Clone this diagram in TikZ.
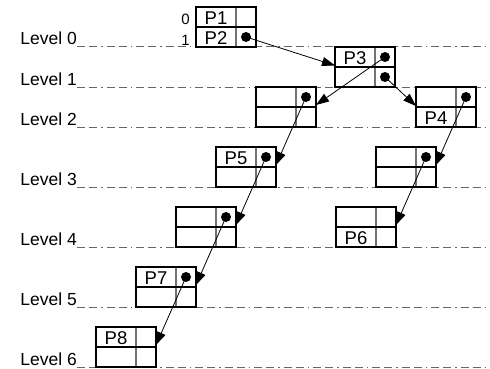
\documentclass[tikz,border=0pt]{standalone}
\usepackage{fontspec}
\setmainfont{Liberation Sans}
\usetikzlibrary{arrows.meta,calc}
\tikzset{
  x=1pt, y=-1pt,
  pbox/.style={draw, line width=1.8pt, minimum width=60pt, minimum height=40pt, inner sep=0pt, outer sep=0pt},
  hdiv/.style={line width=1.3pt, black},
  vdiv/.style={line width=1.2pt, black!55},
  lev/.style={draw=black!60, line width=1pt, dash pattern=on 8pt off 4pt on 8pt off 4pt on 1.5pt off 4pt},
  levlabel/.style={anchor=base east, font=\fontsize{17.5}{17.5}\selectfont, inner sep=0pt},
  celltext/.style={anchor=base, font=\fontsize{18.5}{18.5}\selectfont, inner sep=0pt},
  idxtext/.style={anchor=base east, font=\fontsize{15}{15}\selectfont, inner sep=0pt},
  ptr/.style={-{Triangle[length=13pt,width=9pt]}, line width=0.8pt},
  dotmark/.style={fill=black},
}
% name, left x, top y, top-left text, bottom-left text
\newcommand\pbox[5]{%
  \draw[vdiv] (#2+40,#3) -- (#2+40,#3+40);
  \draw[hdiv] (#2,#3+20) -- (#2+60,#3+20);
  \node[pbox] (#1) at (#2+30,#3+20) {};
  \node[celltext] (#1-tl) at (#2+20,#3+17.5) {#4};
  \node[celltext] (#1-bl) at (#2+20,#3+37.5) {#5};
  \coordinate (#1-tr) at (#2+50,#3+10);
  \coordinate (#1-br) at (#2+50,#3+30);
}
\begin{document}
\begin{tikzpicture}
\useasboundingbox (0,0) rectangle (490,369);
% levels
\foreach \k/\yy in {0/47,1/87,2/127,3/187,4/247,5/307,6/367}{
  \draw[lev] (77,\yy) -- (490,\yy);
  \node[levlabel] (l\k) at (77,\yy-2) {Level \k};
}
% boxes
\pbox{b0}{196}{7}{P1}{P2}
\pbox{b3}{335}{47}{P3}{}
\pbox{b2l}{256}{87}{}{}
\pbox{b4}{416}{87}{}{P4}
\pbox{b5}{216}{147}{P5}{}
\pbox{b3r}{376}{147}{}{}
\pbox{b4l}{176}{207}{}{}
\pbox{b6}{336}{207}{}{P6}
\pbox{b7}{136}{267}{P7}{}
\pbox{b8}{96}{327}{P8}{}
\node[idxtext] (i0) at (190,25) {0};
\node[idxtext] (i1) at (190,46) {1};
% dots
\foreach \c in {b0-br,b3-tr,b3-br,b2l-tr,b4-tr,b5-tr,b3r-tr,b4l-tr,b7-tr}{
  \fill[dotmark] (\c) circle (5pt);
}
% pointers
\draw[ptr] (b0-br) -- ($(b3.north west)+(0,18.5)$);
\draw[ptr] (b3-tr) -- ($(b2l.north east)+(0,18)$);
\draw[ptr] (b3-br) -- ($(b4.north west)+(0,19)$);
\draw[ptr] (b2l-tr) -- ($(b5.north east)+(0,18)$);
\draw[ptr] (b4-tr) -- ($(b3r.north east)+(0,18)$);
\draw[ptr] (b5-tr) -- ($(b4l.north east)+(0,18)$);
\draw[ptr] (b3r-tr) -- ($(b6.north east)+(0,18)$);
\draw[ptr] (b4l-tr) -- ($(b7.north east)+(0,18)$);
\draw[ptr] (b7-tr) -- ($(b8.north east)+(0,18)$);
\end{tikzpicture}
\end{document}
